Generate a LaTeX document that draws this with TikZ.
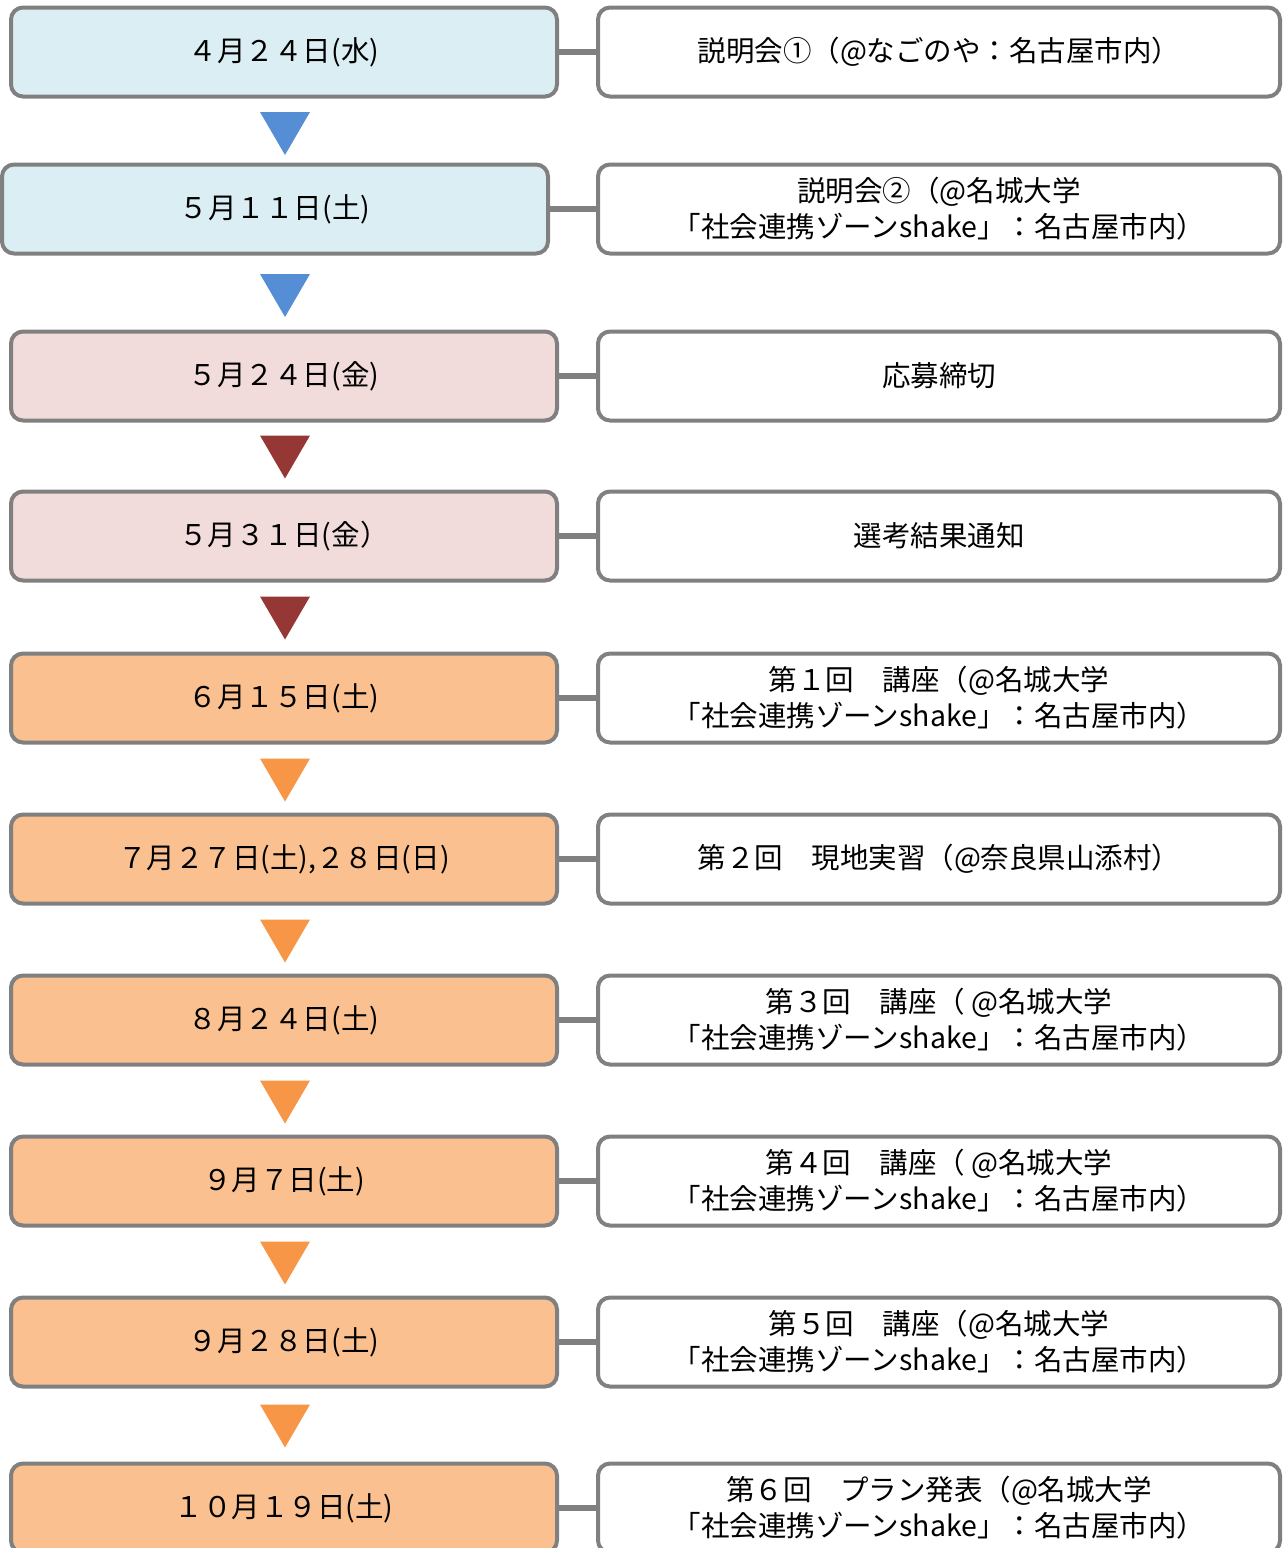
\documentclass[tikz,border=0pt]{standalone}
\usepackage{fontspec}
\setmainfont{Noto Sans CJK JP}
\definecolor{boxgray}{RGB}{128,128,128}
\definecolor{lblue}{RGB}{219,238,244}
\definecolor{lpink}{RGB}{242,220,219}
\definecolor{lorange}{RGB}{250,192,144}
\definecolor{tblue}{RGB}{85,142,213}
\definecolor{tred}{RGB}{149,55,53}
\definecolor{torange}{RGB}{247,150,70}
\tikzset{
    datebox/.style={draw=boxgray, line width=4pt, rounded corners=12pt, minimum width=546pt, minimum height=89pt, inner sep=0pt, font=\fontsize{28.5}{36}\selectfont},
    eventbox/.style={draw=boxgray, line width=4pt, rounded corners=12pt, fill=white, minimum width=682pt, minimum height=89pt, inner sep=0pt, align=center, font=\fontsize{28.5}{36}\selectfont},
    link/.style={draw=boxgray, line width=6pt},
}
% downward triangle between two rows
\newcommand{\downtri}[2]{\fill[#2] (260,#1-21.5) -- (310,#1-21.5) -- (285,#1+21.5) -- cycle;}
\begin{document}
\begin{tikzpicture}[x=1pt, y=-1pt]
    \useasboundingbox (0,0) rectangle (1288,1548);
    % dates
    \node[datebox, fill=lblue] (d1) at (284, 52) {４月２４日(水)};
    \node[datebox, fill=lblue] (d2) at (275, 209) {５月１１日(土)};
    \node[datebox, fill=lpink] (d3) at (284, 376) {５月２４日(金)};
    \node[datebox, fill=lpink] (d4) at (284, 536) {５月３１日(金）};
    \node[datebox, fill=lorange] (d5) at (284, 698) {６月１５日(土)};
    \node[datebox, fill=lorange] (d6) at (284, 859) {７月２７日(土),２８日(日)};
    \node[datebox, fill=lorange] (d7) at (284, 1020) {８月２４日(土)};
    \node[datebox, fill=lorange] (d8) at (284, 1181) {９月７日(土)};
    \node[datebox, fill=lorange] (d9) at (284, 1342) {９月２８日(土)};
    \node[datebox, fill=lorange] (d10) at (284, 1508) {１０月１９日(土)};
    % events
    \node[eventbox] (e1) at (939, 52) {説明会①（@なごのや：名古屋市内）};
    \node[eventbox] (e2) at (939, 209) {説明会②（@名城大学\\「社会連携ゾーンshake」：名古屋市内）};
    \node[eventbox] (e3) at (939, 376) {応募締切};
    \node[eventbox] (e4) at (939, 536) {選考結果通知};
    \node[eventbox] (e5) at (939, 698) {第１回　講座（@名城大学\\「社会連携ゾーンshake」：名古屋市内）};
    \node[eventbox] (e6) at (939, 859) {第２回　現地実習（@奈良県山添村）};
    \node[eventbox] (e7) at (939, 1020) {第３回　講座（ @名城大学\\「社会連携ゾーンshake」：名古屋市内）};
    \node[eventbox] (e8) at (939, 1181) {第４回　講座（ @名城大学\\「社会連携ゾーンshake」：名古屋市内）};
    \node[eventbox] (e9) at (939, 1342) {第５回　講座（@名城大学\\「社会連携ゾーンshake」：名古屋市内）};
    \node[eventbox] (e10) at (939, 1508) {第６回　プラン発表（@名城大学\\「社会連携ゾーンshake」：名古屋市内）};
    % links
    \foreach \i in {1,...,10}
        \draw[link] (d\i.east) -- (e\i.west);
    % triangles
    \downtri{133.5}{tblue}
    \downtri{295.5}{tblue}
    \downtri{457}{tred}
    \downtri{618}{tred}
    \downtri{780}{torange}
    \downtri{941}{torange}
    \downtri{1102}{torange}
    \downtri{1263}{torange}
    \downtri{1426}{torange}
\end{tikzpicture}
\end{document}
